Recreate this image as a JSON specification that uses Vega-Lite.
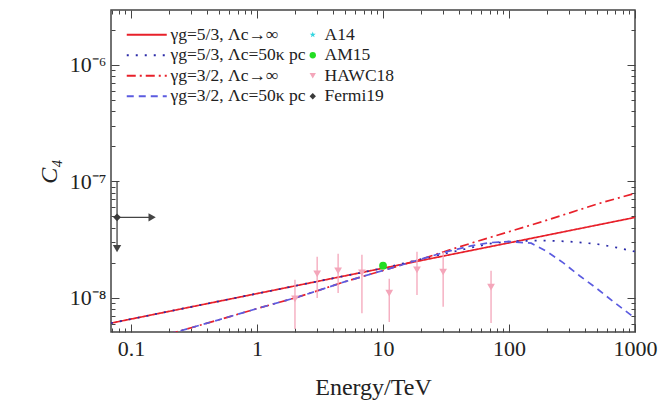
{
  "$schema": "https://vega.github.io/schema/vega-lite/v6.json",
  "width": 524,
  "height": 322,
  "autosize": {"type": "none"},
  "padding": {"left": 111, "top": 10, "right": 27, "bottom": 75},
  "background": "white",
  "config": {
    "view": {"stroke": "#444444", "strokeWidth": 1.5},
    "font": "Liberation Serif",
    "axis": {
      "domain": false,
      "grid": false,
      "labelFont": "Liberation Serif",
      "labelFontSize": 22,
      "labelColor": "#222222",
      "titleFont": "Liberation Serif",
      "titleColor": "#222222",
      "titleFontWeight": "normal",
      "tickColor": "#444444",
      "tickWidth": 1
    },
    "legend": {
      "labelFont": "Liberation Serif",
      "labelFontSize": 17.5,
      "labelColor": "#222222",
      "padding": 0,
      "rowPadding": 1.5,
      "titlePadding": 0
    }
  },
  "datasets": {
    "curves": [
      {"E": 0.0693, "C": 6.08e-9, "s": "γg=5/3, Λc→∞"},
      {"E": 1, "C": 1.09e-8, "s": "γg=5/3, Λc→∞"},
      {"E": 10, "C": 1.80e-8, "s": "γg=5/3, Λc→∞"},
      {"E": 100, "C": 2.97e-8, "s": "γg=5/3, Λc→∞"},
      {"E": 1000, "C": 4.91e-8, "s": "γg=5/3, Λc→∞"},
      {"E": 0.0693, "C": 6.08e-9, "s": "γg=5/3, Λc=50κ pc"},
      {"E": 1, "C": 1.09e-8, "s": "γg=5/3, Λc=50κ pc"},
      {"E": 10, "C": 1.80e-8, "s": "γg=5/3, Λc=50κ pc"},
      {"E": 20, "C": 2.15e-8, "s": "γg=5/3, Λc=50κ pc"},
      {"E": 30, "C": 2.38e-8, "s": "γg=5/3, Λc=50κ pc"},
      {"E": 50, "C": 2.7e-8, "s": "γg=5/3, Λc=50κ pc"},
      {"E": 70, "C": 2.92e-8, "s": "γg=5/3, Λc=50κ pc"},
      {"E": 100, "C": 3.05e-8, "s": "γg=5/3, Λc=50κ pc"},
      {"E": 150, "C": 3.1e-8, "s": "γg=5/3, Λc=50κ pc"},
      {"E": 200, "C": 3.1e-8, "s": "γg=5/3, Λc=50κ pc"},
      {"E": 300, "C": 3.05e-8, "s": "γg=5/3, Λc=50κ pc"},
      {"E": 500, "C": 2.9e-8, "s": "γg=5/3, Λc=50κ pc"},
      {"E": 700, "C": 2.72e-8, "s": "γg=5/3, Λc=50κ pc"},
      {"E": 1000, "C": 2.5e-8, "s": "γg=5/3, Λc=50κ pc"},
      {"E": 0.2, "C": 4.9e-9, "s": "γg=3/2, Λc→∞"},
      {"E": 0.3, "C": 5.55e-9, "s": "γg=3/2, Λc→∞"},
      {"E": 0.5, "C": 6.5e-9, "s": "γg=3/2, Λc→∞"},
      {"E": 1, "C": 8.1e-9, "s": "γg=3/2, Λc→∞"},
      {"E": 2, "C": 1.0e-8, "s": "γg=3/2, Λc→∞"},
      {"E": 3, "C": 1.15e-8, "s": "γg=3/2, Λc→∞"},
      {"E": 5, "C": 1.38e-8, "s": "γg=3/2, Λc→∞"},
      {"E": 10, "C": 1.72e-8, "s": "γg=3/2, Λc→∞"},
      {"E": 20, "C": 2.15e-8, "s": "γg=3/2, Λc→∞"},
      {"E": 30, "C": 2.48e-8, "s": "γg=3/2, Λc→∞"},
      {"E": 50, "C": 2.95e-8, "s": "γg=3/2, Λc→∞"},
      {"E": 100, "C": 3.7e-8, "s": "γg=3/2, Λc→∞"},
      {"E": 200, "C": 4.65e-8, "s": "γg=3/2, Λc→∞"},
      {"E": 300, "C": 5.35e-8, "s": "γg=3/2, Λc→∞"},
      {"E": 500, "C": 6.4e-8, "s": "γg=3/2, Λc→∞"},
      {"E": 1000, "C": 7.9e-8, "s": "γg=3/2, Λc→∞"},
      {"E": 0.2, "C": 4.9e-9, "s": "γg=3/2, Λc=50κ pc"},
      {"E": 0.3, "C": 5.55e-9, "s": "γg=3/2, Λc=50κ pc"},
      {"E": 0.5, "C": 6.5e-9, "s": "γg=3/2, Λc=50κ pc"},
      {"E": 1, "C": 8.1e-9, "s": "γg=3/2, Λc=50κ pc"},
      {"E": 2, "C": 1.0e-8, "s": "γg=3/2, Λc=50κ pc"},
      {"E": 3, "C": 1.15e-8, "s": "γg=3/2, Λc=50κ pc"},
      {"E": 5, "C": 1.38e-8, "s": "γg=3/2, Λc=50κ pc"},
      {"E": 10, "C": 1.72e-8, "s": "γg=3/2, Λc=50κ pc"},
      {"E": 20, "C": 2.15e-8, "s": "γg=3/2, Λc=50κ pc"},
      {"E": 30, "C": 2.45e-8, "s": "γg=3/2, Λc=50κ pc"},
      {"E": 50, "C": 2.8e-8, "s": "γg=3/2, Λc=50κ pc"},
      {"E": 70, "C": 2.98e-8, "s": "γg=3/2, Λc=50κ pc"},
      {"E": 100, "C": 3.05e-8, "s": "γg=3/2, Λc=50κ pc"},
      {"E": 150, "C": 2.95e-8, "s": "γg=3/2, Λc=50κ pc"},
      {"E": 200, "C": 2.5e-8, "s": "γg=3/2, Λc=50κ pc"},
      {"E": 270, "C": 2.0e-8, "s": "γg=3/2, Λc=50κ pc"},
      {"E": 363, "C": 1.55e-8, "s": "γg=3/2, Λc=50κ pc"},
      {"E": 500, "C": 1.2e-8, "s": "γg=3/2, Λc=50κ pc"},
      {"E": 700, "C": 9.0e-9, "s": "γg=3/2, Λc=50κ pc"},
      {"E": 1000, "C": 6.7e-9, "s": "γg=3/2, Λc=50κ pc"}
    ],
    "pts": [
      {"d": "HAWC18", "E": 2.0, "C": 9.8e-9, "lo": 5.4e-9, "hi": 1.43e-8},
      {"d": "HAWC18", "E": 3.0, "C": 1.61e-8, "lo": 1.0e-8, "hi": 2.26e-8},
      {"d": "HAWC18", "E": 4.4, "C": 1.71e-8, "lo": 1.10e-8, "hi": 2.39e-8},
      {"d": "HAWC18", "E": 6.8, "C": 1.64e-8, "lo": 7.4e-9, "hi": 2.35e-8},
      {"d": "HAWC18", "E": 11.2, "C": 1.10e-8, "lo": 6.2e-9, "hi": 1.46e-8},
      {"d": "HAWC18", "E": 18.6, "C": 1.74e-8, "lo": 1.06e-8, "hi": 2.49e-8},
      {"d": "HAWC18", "E": 30, "C": 1.67e-8, "lo": 8.4e-9, "hi": 2.49e-8},
      {"d": "HAWC18", "E": 72, "C": 1.24e-8, "lo": 6.1e-9, "hi": 1.71e-8},
      {"d": "AM15", "E": 10, "C": 1.89e-8},
      {"d": "Fermi19", "E": 0.0774, "C": 4.92e-8}
    ],
    "fermiV": [{"E": 0.0774, "C": 1.0e-7, "C2": 2.65e-8}],
    "fermiH": [{"E": 0.0774, "E2": 0.147, "C": 4.92e-8}],
    "headDown": [{"E": 0.0774, "C": 2.65e-8}],
    "headRight": [{"E": 0.147, "C": 4.92e-8}]
  },
  "layer": [
    {
      "data": {"name": "curves"},
      "mark": {"type": "line", "clip": true, "strokeWidth": 1.7},
      "encoding": {
        "x": {
          "field": "E", "type": "quantitative",
          "scale": {"type": "log", "domain": [0.0693, 1000], "nice": false},
          "axis": {
            "orient": "bottom",
            "values": [0.07, 0.08, 0.09, 0.1, 0.2, 0.3, 0.4, 0.5, 0.6, 0.7, 0.8, 0.9, 1, 2, 3, 4, 5, 6, 7, 8, 9, 10, 20, 30, 40, 50, 60, 70, 80, 90, 100, 200, 300, 400, 500, 600, 700, 800, 900, 1000],
            "labelExpr": "abs(log(datum.value)/LN10 - round(log(datum.value)/LN10)) < 0.001 ? '' + datum.value : ''",
            "tickSize": {"condition": {"test": "abs(log(datum.value)/LN10 - round(log(datum.value)/LN10)) < 0.001", "value": -8}, "value": -4},
            "labelPadding": 14,
            "labelFlush": false,
            "labelOverlap": false,
            "title": "Energy/TeV",
            "titleFontSize": 24,
            "titlePadding": 12
          }
        },
        "y": {
          "field": "C", "type": "quantitative",
          "scale": {"type": "log", "domain": [5.1e-9, 2.96e-6], "nice": false},
          "axis": {
            "orient": "left",
            "values": [6e-9, 7e-9, 8e-9, 9e-9, 1e-8, 2e-8, 3e-8, 4e-8, 5e-8, 6e-8, 7e-8, 8e-8, 9e-8, 1e-7, 2e-7, 3e-7, 4e-7, 5e-7, 6e-7, 7e-7, 8e-7, 9e-7, 1e-6, 2e-6],
            "labelExpr": "abs(log(datum.value)/LN10 - round(log(datum.value)/LN10)) < 0.001 ? (datum.value < 3e-8 ? '10⁻⁸' : datum.value < 3e-7 ? '10⁻⁷' : '10⁻⁶') : ''",
            "tickSize": {"condition": {"test": "abs(log(datum.value)/LN10 - round(log(datum.value)/LN10)) < 0.001", "value": -8}, "value": -4},
            "labelPadding": 13,
            "labelFlush": false,
            "labelOverlap": false,
            "title": "C₄",
            "titleFontSize": 24,
            "titleFontStyle": "italic",
            "titlePadding": 8
          }
        },
        "stroke": {
          "field": "s", "type": "nominal",
          "scale": {
            "domain": ["γg=5/3, Λc→∞", "γg=5/3, Λc=50κ pc", "γg=3/2, Λc→∞", "γg=3/2, Λc=50κ pc"],
            "range": ["#e8202a", "#2a2aa8", "#e8202a", "#5b5be0"]
          },
          "legend": {"orient": "none", "legendX": 27, "legendY": 16, "title": null, "symbolType": "M-4,0H4", "symbolSize": 100, "symbolStrokeWidth": 2, "labelOffset": 15}
        },
        "strokeDash": {
          "field": "s", "type": "nominal",
          "scale": {
            "domain": ["γg=5/3, Λc→∞", "γg=5/3, Λc=50κ pc", "γg=3/2, Λc→∞", "γg=3/2, Λc=50κ pc"],
            "range": [[1, 0], [2, 7], [9, 4, 2, 4], [7, 5]]
          },
          "legend": {"orient": "none", "legendX": 27, "legendY": 16, "title": null, "symbolType": "M-4,0H4", "symbolSize": 100, "symbolStrokeWidth": 2, "labelOffset": 15}
        }
      }
    },
    {
      "data": {"name": "pts"},
      "transform": [{"filter": "datum.d == 'HAWC18'"}],
      "mark": {"type": "rule", "color": "#f4a6ba", "strokeWidth": 1.3, "clip": true},
      "encoding": {
        "x": {
          "field": "E", "type": "quantitative",
          "scale": {"type": "log", "domain": [0.0693, 1000], "nice": false},
          "axis": {
            "orient": "top",
            "values": [0.07, 0.08, 0.09, 0.1, 0.2, 0.3, 0.4, 0.5, 0.6, 0.7, 0.8, 0.9, 1, 2, 3, 4, 5, 6, 7, 8, 9, 10, 20, 30, 40, 50, 60, 70, 80, 90, 100, 200, 300, 400, 500, 600, 700, 800, 900, 1000],
            "labels": false,
            "tickSize": {"condition": {"test": "abs(log(datum.value)/LN10 - round(log(datum.value)/LN10)) < 0.001", "value": -8}, "value": -4},
            "title": null
          }
        },
        "y": {
          "field": "lo", "type": "quantitative",
          "scale": {"type": "log", "domain": [5.1e-9, 2.96e-6], "nice": false},
          "axis": {
            "orient": "right",
            "values": [6e-9, 7e-9, 8e-9, 9e-9, 1e-8, 2e-8, 3e-8, 4e-8, 5e-8, 6e-8, 7e-8, 8e-8, 9e-8, 1e-7, 2e-7, 3e-7, 4e-7, 5e-7, 6e-7, 7e-7, 8e-7, 9e-7, 1e-6, 2e-6],
            "labels": false,
            "tickSize": {"condition": {"test": "abs(log(datum.value)/LN10 - round(log(datum.value)/LN10)) < 0.001", "value": -8}, "value": -4},
            "title": null
          }
        },
        "y2": {"field": "hi"}
      }
    },
    {
      "data": {"name": "fermiV"},
      "mark": {"type": "rule", "color": "#444444", "strokeWidth": 1.3},
      "encoding": {
        "x": {"field": "E", "type": "quantitative", "scale": {"type": "log", "domain": [0.0693, 1000], "nice": false}, "axis": null},
        "y": {"field": "C", "type": "quantitative", "scale": {"type": "log", "domain": [5.1e-9, 2.96e-6], "nice": false}, "axis": null},
        "y2": {"field": "C2"}
      }
    },
    {
      "data": {"name": "fermiH"},
      "mark": {"type": "rule", "color": "#444444", "strokeWidth": 1.3},
      "encoding": {
        "x": {"field": "E", "type": "quantitative", "scale": {"type": "log", "domain": [0.0693, 1000], "nice": false}, "axis": null},
        "x2": {"field": "E2"},
        "y": {"field": "C", "type": "quantitative", "scale": {"type": "log", "domain": [5.1e-9, 2.96e-6], "nice": false}, "axis": null}
      }
    },
    {
      "data": {"name": "headDown"},
      "mark": {"type": "point", "shape": "triangle-down", "filled": true, "color": "#444444", "size": 70, "opacity": 1},
      "encoding": {
        "x": {"field": "E", "type": "quantitative", "scale": {"type": "log", "domain": [0.0693, 1000], "nice": false}, "axis": null},
        "y": {"field": "C", "type": "quantitative", "scale": {"type": "log", "domain": [5.1e-9, 2.96e-6], "nice": false}, "axis": null}
      }
    },
    {
      "data": {"name": "headRight"},
      "mark": {"type": "point", "shape": "triangle-right", "filled": true, "color": "#444444", "size": 70, "opacity": 1},
      "encoding": {
        "x": {"field": "E", "type": "quantitative", "scale": {"type": "log", "domain": [0.0693, 1000], "nice": false}, "axis": null},
        "y": {"field": "C", "type": "quantitative", "scale": {"type": "log", "domain": [5.1e-9, 2.96e-6], "nice": false}, "axis": null}
      }
    },
    {
      "data": {"name": "pts"},
      "mark": {"type": "point", "filled": true, "opacity": 1, "size": 60, "strokeWidth": 0},
      "encoding": {
        "x": {"field": "E", "type": "quantitative", "scale": {"type": "log", "domain": [0.0693, 1000], "nice": false}, "axis": null},
        "y": {"field": "C", "type": "quantitative", "scale": {"type": "log", "domain": [5.1e-9, 2.96e-6], "nice": false}, "axis": null},
        "fill": {
          "field": "d", "type": "nominal",
          "scale": {"domain": ["A14", "AM15", "HAWC18", "Fermi19"], "range": ["#33d6e0", "#22dd22", "#f4a6ba", "#3a3a3a"]},
          "legend": {"orient": "none", "legendX": 193, "legendY": 16, "title": null, "symbolSize": 40, "symbolStrokeWidth": 0, "labelOffset": 3}
        },
        "shape": {
          "field": "d", "type": "nominal",
          "scale": {"domain": ["A14", "AM15", "HAWC18", "Fermi19"], "range": ["M0,-1L0.24,-0.33L0.95,-0.31L0.38,0.12L0.59,0.81L0,0.4L-0.59,0.81L-0.38,0.12L-0.95,-0.31L-0.24,-0.33Z", "circle", "triangle-down", "diamond"]},
          "legend": {"orient": "none", "legendX": 193, "legendY": 16, "title": null, "symbolSize": 40, "symbolStrokeWidth": 0, "labelOffset": 3}
        }
      }
    }
  ],
  "resolve": {"axis": {"x": "independent", "y": "independent"}}
}
